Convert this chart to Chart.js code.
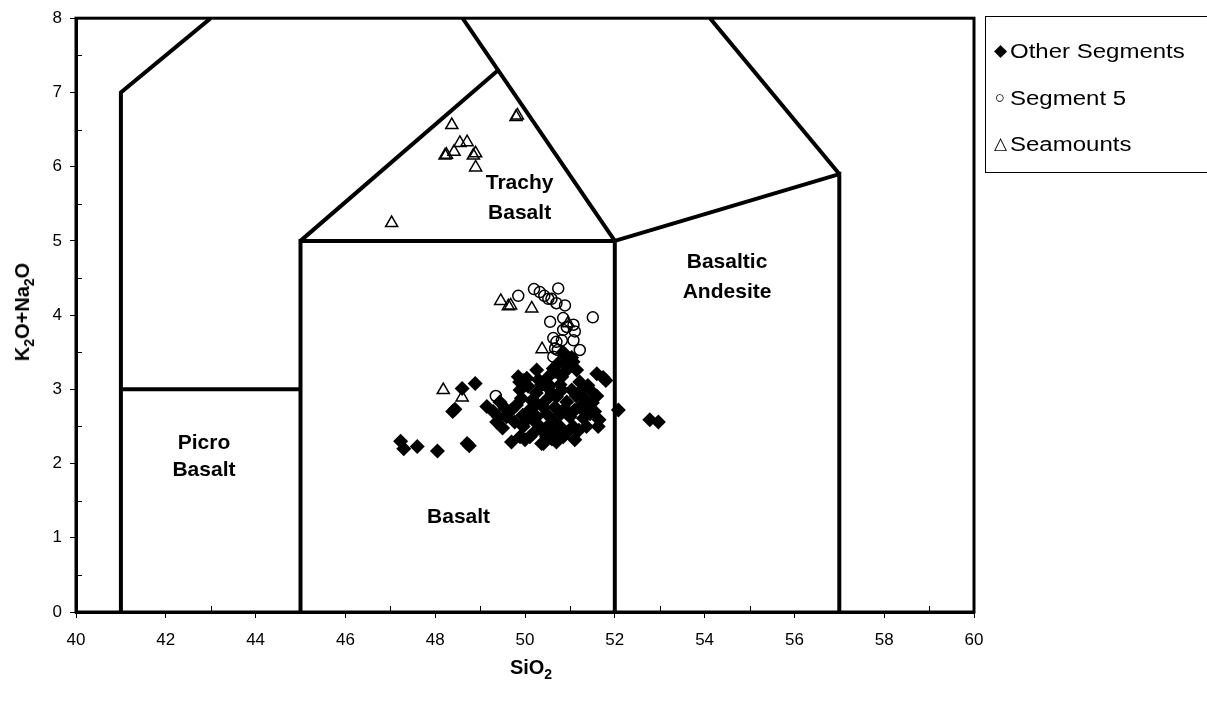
<!DOCTYPE html>
<html>
<head>
<meta charset="utf-8">
<script src="https://cdn.jsdelivr.net/npm/chart.js@4.4.1/dist/chart.umd.min.js"></script>
<style>
  html, body { margin: 0; padding: 0; background: #fff; }
  #wrap { position: relative; width: 1207px; height: 702px; overflow: hidden; }
  #wrap canvas { position: absolute; left: 0; top: 0; }
  .axis-title { position: absolute; font-family: "Liberation Sans", Arial, sans-serif; font-weight: bold;
    font-size: 20px; color: #000; white-space: nowrap; line-height: 1; }
  .axis-title sub { font-size: 14px; vertical-align: -5px; line-height: 0; }
  #xTitle { left: 531px; top: 667px; transform: translate(-50%, -50%); }
  #yTitle { left: 22px; top: 312px; transform: translate(-50%, -50%) rotate(-90deg); }
  #legend { position: absolute; left: 985px; top: 16px; width: 240px; height: 157px; border: 1px solid #000;
    box-sizing: border-box; font-family: "Liberation Sans", Arial, sans-serif; font-size: 20px; color: #000; }
  #legend .item { position: absolute; left: 0; white-space: nowrap; line-height: 1; height: 20px; }
  #legend .mk { position: absolute; left: 6px; top: 1px; width: 16px; font-size: 17px; text-align: center; }
  #legend .tx { position: absolute; left: 24px; top: 0; transform: scaleX(1.2); transform-origin: 0 50%; }
</style>
</head>
<body>
<div id="wrap">
  <canvas id="tas" width="1207" height="702"></canvas>
  <div class="axis-title" id="xTitle">SiO<sub>2</sub></div>
  <div class="axis-title" id="yTitle">K<sub>2</sub>O+Na<sub>2</sub>O</div>
  <div id="legend">
    <div class="item" style="top:24px"><span class="mk">◆</span><span class="tx">Other Segments</span></div>
    <div class="item" style="top:71px"><span class="mk">○</span><span class="tx">Segment 5</span></div>
    <div class="item" style="top:117px"><span class="mk">△</span><span class="tx">Seamounts</span></div>
  </div>
</div>
<script>
// Series names
const seriesNames = ['Other Segments', 'Segment 5', 'Seamounts'];

// Other Segments: SiO2 and total alkalis (wt%)
const otherSiO2 = [47.23, 47.30, 47.60, 48.05, 48.71, 48.76, 48.39, 48.44, 48.60, 48.89,
  52.08, 52.78, 52.97,
  49.15, 49.29, 49.41, 49.37, 49.70, 50.00, 50.41, 50.70, 51.11, 51.63, 51.65, 49.81, 49.92,
  49.85, 50.04, 50.26, 50.63, 50.67, 50.96, 51.07, 50.89, 51.04, 50.37, 50.48, 50.78, 51.22,
  51.60, 51.74, 51.80, 51.45, 51.60, 51.50, 51.37, 51.14, 50.93, 50.70, 50.48, 50.26, 50.10,
  50.26, 50.48, 50.63, 50.80, 51.00, 51.22, 51.30, 51.45, 50.33, 50.56, 50.78, 50.93, 50.48,
  50.19, 49.96, 49.77, 49.59, 49.70, 49.44, 50.04, 49.89, 50.07, 50.30, 50.52, 50.82, 50.93,
  51.15, 50.82, 51.04, 51.26, 51.33, 51.11, 50.89, 50.67, 50.41, 50.26, 50.67, 50.85, 51.07,
  51.37, 50.11, 49.89, 50.37, 49.96, 49.88, 50.85, 50.96, 50.74, 50.55, 50.60, 50.50, 50.45,
  50.60, 50.25, 50.15, 49.55, 49.50, 49.95, 51.20, 51.55, 51.40];
const otherAlk = [2.30, 2.20, 2.23, 2.17, 2.27, 2.24, 2.70, 2.73, 3.01, 3.08,
  2.72, 2.59, 2.56,
  2.77, 2.70, 2.63, 2.56, 2.29, 2.32, 2.27, 2.29, 2.32, 2.50, 2.59, 2.79, 2.88,
  3.17, 3.15, 3.26, 3.28, 3.24, 3.39, 3.37, 3.46, 3.43, 3.06, 3.04, 3.06, 3.10,
  3.21, 3.16, 3.12, 2.99, 2.91, 2.82, 2.72, 2.91, 2.83, 2.90, 2.86, 2.81, 2.72,
  2.63, 2.67, 2.58, 2.67, 2.63, 2.76, 2.61, 2.67, 2.50, 2.45, 2.50, 2.41, 2.36,
  2.41, 2.50, 2.56, 2.63, 2.72, 2.83, 2.59, 2.99, 3.04, 3.13, 3.17, 3.17, 3.26,
  3.26, 2.99, 2.99, 2.99, 2.87, 2.72, 2.74, 2.76, 2.76, 2.54, 2.41, 2.36, 2.50,
  2.50, 2.36, 2.36, 2.27, 3.12, 3.10, 3.50, 3.30, 3.35, 3.05, 2.95, 2.50, 2.40,
  2.33, 2.95, 2.85, 2.75, 2.48, 2.65, 2.45, 2.70, 3.05];

// Segment 5
const seg5SiO2 = [49.85, 50.20, 50.33, 50.43, 50.52, 50.59, 50.74, 50.70, 50.89, 51.51,
  50.56, 50.85, 50.93, 51.08, 51.11, 50.63, 50.70, 50.82, 51.08, 51.22, 50.67, 50.73,
  50.63, 50.41, 49.35, 50.85];
const seg5Alk = [4.26, 4.35, 4.31, 4.26, 4.22, 4.22, 4.36, 4.16, 4.13, 3.97,
  3.91, 3.96, 3.84, 3.87, 3.78, 3.69, 3.64, 3.66, 3.66, 3.53, 3.55, 3.53,
  3.44, 3.06, 2.91, 3.80];

// Seamounts
const seamSiO2 = [48.37, 48.55, 48.71, 48.22, 48.25, 48.42, 48.85, 48.90, 48.90, 49.80,
  49.83, 47.03, 49.46, 49.63, 49.68, 50.15, 50.38, 48.18, 48.60, 50.96];
const seamAlk = [6.56, 6.32, 6.33, 6.15, 6.16, 6.20, 6.15, 6.18, 5.99, 6.67,
  6.69, 5.24, 4.19, 4.12, 4.13, 4.09, 3.54, 2.99, 2.89, 3.89];

// Axis ranges and tick steps
const xRange = [40, 60];
const yRange = [0, 8];
const xStep = 2;
const yStep = 1;

// Classification field boundaries, as polylines in (SiO2, alkalis)
const fieldBoundaries = [
  [[41, 0], [41, 7], [43, 8]],
  [[41, 3], [45, 3]],
  [[45, 0], [45, 5], [52, 5], [52, 0]],
  [[45, 5], [49.4, 7.3]],
  [[48.61, 8], [49.4, 7.3], [52, 5]],
  [[52, 5], [57, 5.9], [57, 0]],
  [[57, 5.9], [54.12, 8]]
];

// Field names and where they sit (SiO2, alkalis of each line)
const fieldNames = [
  { lines: ['Picro', 'Basalt'], x: 42.85, y: [2.28, 1.91] },
  { lines: ['Basalt'], x: 48.52, y: [1.28] },
  { lines: ['Trachy', 'Basalt'], x: 49.88, y: [5.78, 5.37] },
  { lines: ['Basaltic', 'Andesite'], x: 54.5, y: [4.71, 4.31] }
];

const toPoints = (xs, ys) => xs.map((x, i) => ({ x, y: ys[i] }));

const FONT = '"Liberation Sans", Arial, sans-serif';

const boundaryDatasets = fieldBoundaries.map(line => ({
  data: line.map(p => ({ x: p[0], y: p[1] })),
  showLine: true,
  borderColor: '#000',
  borderWidth: 4,
  borderCapStyle: 'butt',
  borderJoinStyle: 'miter',
  pointRadius: 0,
  fill: false,
  tension: 0
}));

// Frame, inside minor ticks and field names
const framePlugin = {
  id: 'frame',
  afterDraw(chart) {
    const { ctx, chartArea: a, scales } = chart;
    const xs = scales.x, ys = scales.y;
    ctx.save();
    ctx.strokeStyle = '#000';
    ctx.lineWidth = 1;
    ctx.beginPath();
    for (let v = xRange[0] + xStep / 2; v < xRange[1]; v += xStep) {
      const px = Math.round(xs.getPixelForValue(v)) + 0.5;
      ctx.moveTo(px, a.bottom);
      ctx.lineTo(px, a.bottom - 6);
    }
    for (let v = yRange[0] + yStep / 2; v < yRange[1]; v += yStep) {
      const py = Math.round(ys.getPixelForValue(v)) + 0.5;
      ctx.moveTo(a.left, py);
      ctx.lineTo(a.left + 6, py);
    }
    ctx.stroke();
    ctx.lineWidth = 3;
    ctx.strokeRect(a.left, a.top, a.right - a.left, a.bottom - a.top);

    ctx.fillStyle = '#000';
    ctx.font = 'bold 21px ' + FONT;
    ctx.textAlign = 'center';
    ctx.textBaseline = 'middle';
    fieldNames.forEach(f => {
      f.lines.forEach((t, i) => {
        ctx.fillText(t, xs.getPixelForValue(f.x), ys.getPixelForValue(f.y[i]));
      });
    });
    ctx.restore();
  }
};

new Chart(document.getElementById('tas'), {
  type: 'scatter',
  data: {
    datasets: [
      {
        label: seriesNames[0],
        data: toPoints(otherSiO2, otherAlk),
        pointStyle: 'rectRot',
        pointRadius: 7.5,
        backgroundColor: '#000',
        borderColor: '#000',
        borderWidth: 0
      },
      {
        label: seriesNames[1],
        data: toPoints(seg5SiO2, seg5Alk),
        pointStyle: 'circle',
        pointRadius: 5.5,
        backgroundColor: 'rgba(0,0,0,0)',
        borderColor: '#000',
        borderWidth: 1.5
      },
      {
        label: seriesNames[2],
        data: toPoints(seamSiO2, seamAlk),
        pointStyle: 'triangle',
        pointRadius: 7,
        backgroundColor: 'rgba(0,0,0,0)',
        borderColor: '#000',
        borderWidth: 1.5
      },
      ...boundaryDatasets
    ]
  },
  options: {
    responsive: false,
    animation: false,
    events: [],
    layout: { padding: { left: 0, top: 18, right: 233, bottom: 0 } },
    plugins: { legend: { display: false }, tooltip: { enabled: false } },
    scales: {
      x: {
        type: 'linear',
        min: xRange[0], max: xRange[1],
        ticks: { stepSize: xStep, color: '#000', font: { family: FONT, size: 17 }, padding: 12 },
        grid: { display: true, drawOnChartArea: false, drawTicks: true, tickLength: 6, color: '#000', lineWidth: 1 },
        border: { display: true, color: '#000', width: 3 },
        afterFit(s) { s.height = 90; }
      },
      y: {
        type: 'linear',
        min: yRange[0], max: yRange[1],
        ticks: { stepSize: yStep, color: '#000', font: { family: FONT, size: 17 }, padding: 8 },
        grid: { display: true, drawOnChartArea: false, drawTicks: true, tickLength: 6, color: '#000', lineWidth: 1 },
        border: { display: true, color: '#000', width: 3 },
        afterFit(s) { s.width = 76; }
      }
    }
  },
  plugins: [framePlugin]
});
</script>
</body>
</html>
